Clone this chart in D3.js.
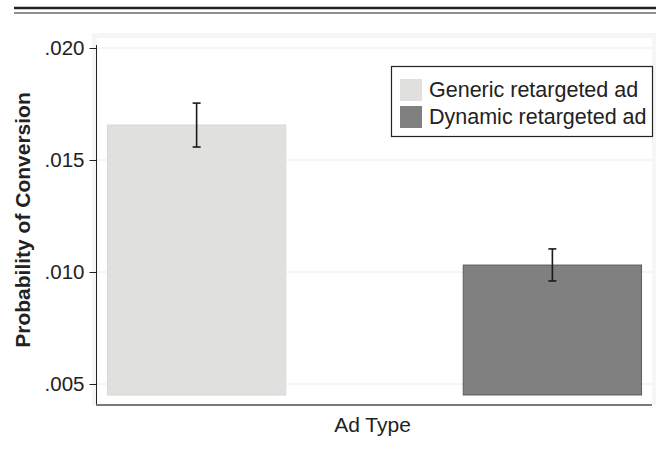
<!DOCTYPE html>
<html>
<head>
<meta charset="utf-8">
<script src="https://cdn.jsdelivr.net/npm/d3@7"></script>
<style>
  body { margin: 0; background: #fff; }
  text { font-family: "Liberation Sans", Arial, sans-serif; fill: #222; }
</style>
</head>
<body>
<svg width="656" height="450"></svg>
<script>
  const categories = ['Generic retargeted ad', 'Dynamic retargeted ad'];
  const values = [0.01656, 0.01031];
  const ciLow = [0.01558, 0.00960];
  const ciHigh = [0.01754, 0.01103];
  const colors = ['#e0e0de', '#808080'];
  const strokes = ['#d6d6d4', '#5c5c5c'];
  const yTicks = [0.005, 0.010, 0.015, 0.020];
  const yTickLabels = ['.005', '.010', '.015', '.020'];
  const barBase = 0.00451;

(function (d3) {
  'use strict';

  const svg = d3.select('svg');

  // rule lines at top
  svg.append('line').attr('x1', 14).attr('x2', 656).attr('y1', 8).attr('y2', 8)
    .attr('stroke', '#222').attr('stroke-width', 2.5);
  svg.append('line').attr('x1', 14).attr('x2', 656).attr('y1', 13).attr('y2', 13)
    .attr('stroke', '#222').attr('stroke-width', 1.2);

  const pLeft = 97, pRight = 652, pTop = 38, pBottom = 405;

  // plot region
  svg.append('rect').attr('x', 92).attr('y', 33).attr('width', 656 - 92).attr('height', pBottom - 33)
    .attr('fill', '#f6f6f6');
  svg.append('rect').attr('x', pLeft).attr('y', pTop).attr('width', pRight - pLeft).attr('height', pBottom - pTop)
    .attr('fill', '#fff');

  const yScale = d3.scaleLinear()
    .domain([0.005, 0.020])
    .range([384, 48]);

  const xScale = d3.scaleBand()
    .domain(categories)
    .range([pLeft, pRight])
    .paddingInner(0.496)
    .paddingOuter(0.028);

  // gridlines
  svg.append('g').selectAll('line').data(yTicks).join('line')
    .attr('x1', pLeft).attr('x2', pRight)
    .attr('y1', d => yScale(d)).attr('y2', d => yScale(d))
    .attr('stroke', '#ececec').attr('stroke-width', 1);

  // bars
  svg.append('g').selectAll('rect').data(categories).join('rect')
    .attr('x', d => xScale(d) + 0.5)
    .attr('y', (d, i) => yScale(values[i]))
    .attr('width', xScale.bandwidth() - 1)
    .attr('height', (d, i) => yScale(barBase) - yScale(values[i]))
    .attr('fill', (d, i) => colors[i])
    .attr('stroke', (d, i) => strokes[i])
    .attr('stroke-width', 1);

  // error bars
  const eb = svg.append('g').attr('stroke', '#1a1a1a').attr('stroke-width', 1.6);
  categories.forEach((c, i) => {
    const cx = xScale(c) + xScale.bandwidth() / 2;
    eb.append('line').attr('x1', cx).attr('x2', cx)
      .attr('y1', yScale(ciLow[i])).attr('y2', yScale(ciHigh[i]));
    [ciLow[i], ciHigh[i]].forEach(v => {
      eb.append('line').attr('x1', cx - 4).attr('x2', cx + 4)
        .attr('y1', yScale(v)).attr('y2', yScale(v));
    });
  });

  // y axis
  const yAxis = d3.axisLeft(yScale)
    .tickValues(yTicks)
    .tickFormat((d, i) => yTickLabels[i])
    .tickSize(7)
    .tickPadding(5);

  const yAxisG = svg.append('g')
    .attr('transform', `translate(${pLeft - 0.5},0)`)
    .call(yAxis);
  yAxisG.select('.domain').remove();
  yAxisG.selectAll('line').attr('stroke', '#222');
  yAxisG.selectAll('text')
    .attr('font-size', 20.5)
    .attr('font-family', '"Liberation Sans", Arial, sans-serif')
    .attr('fill', '#222');

  svg.append('line').attr('x1', pLeft - 0.5).attr('x2', pLeft - 0.5).attr('y1', 45).attr('y2', pBottom)
    .attr('stroke', '#222').attr('stroke-width', 1);

  // x axis line
  svg.append('line').attr('x1', pLeft - 1).attr('x2', pRight).attr('y1', pBottom).attr('y2', pBottom)
    .attr('stroke', '#7a7a7a').attr('stroke-width', 2);

  // axis titles
  svg.append('text')
    .attr('transform', `translate(30,220) rotate(-90)`)
    .attr('text-anchor', 'middle')
    .attr('font-size', 21)
    .attr('font-weight', 'bold')
    .text('Probability of Conversion');

  svg.append('text')
    .attr('x', (pLeft + pRight) / 2 - 2)
    .attr('y', 432)
    .attr('text-anchor', 'middle')
    .attr('font-size', 21)
    .text('Ad Type');

  // legend
  const legend = svg.append('g');
  legend.append('rect').attr('x', 391.5).attr('y', 66.5).attr('width', 261).attr('height', 70)
    .attr('fill', '#fff').attr('stroke', '#222').attr('stroke-width', 1.2);
  categories.forEach((c, i) => {
    legend.append('rect').attr('x', 400).attr('y', 79 + i * 27).attr('width', 22).attr('height', 22)
      .attr('fill', colors[i]);
    legend.append('text').attr('x', 429).attr('y', 97 + i * 27)
      .attr('font-size', 21.5)
      .text(c);
  });

}(d3));
</script>
</body>
</html>
